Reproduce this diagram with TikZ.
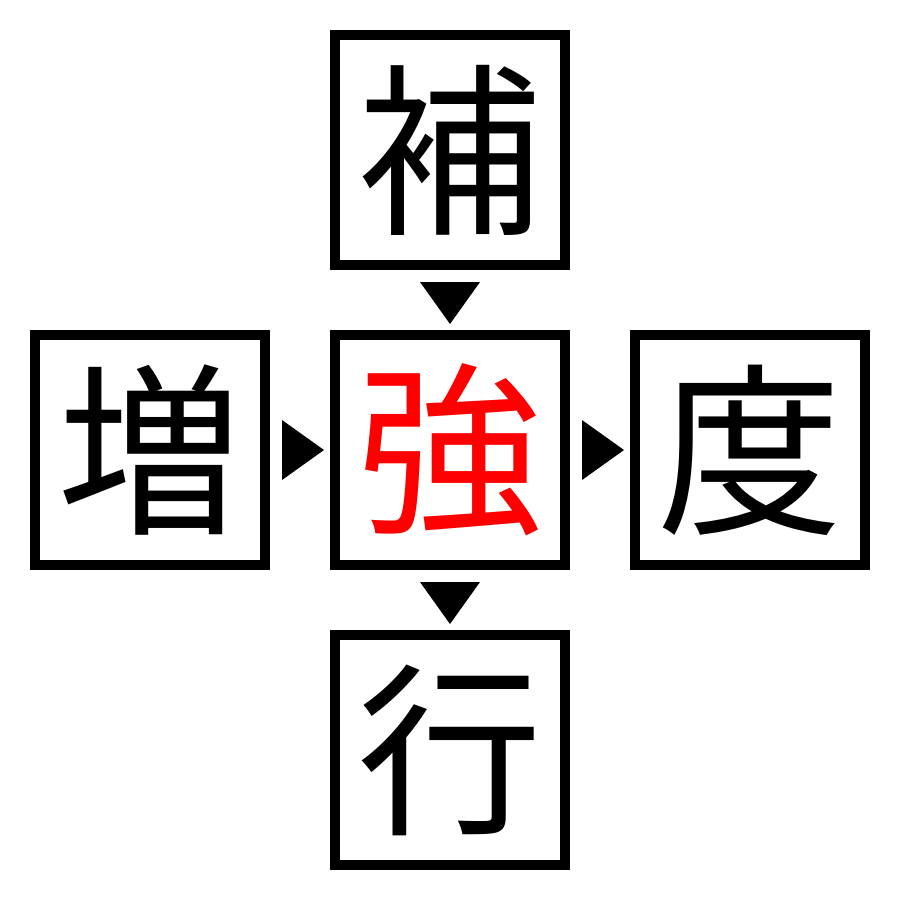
\documentclass[tikz,border=0pt]{standalone}
\usepackage{fontspec}
\newfontfamily\cjk{Noto Sans CJK JP}
\tikzset{
  charbox/.style={draw=black, line width=10pt, minimum size=230pt, inner sep=0pt, fill=white,
    font=\cjk\fontsize{185pt}{185pt}\selectfont, text=black},
  hot/.style={text=red}
}
\begin{document}
\begin{tikzpicture}[x=1pt,y=-1pt]
\useasboundingbox (0,0) rectangle (900,900);
\node[charbox] (top) at (450,150) {補};
\node[charbox] (left) at (150,450) {増};
\node[charbox,hot] (ctr) at (450,450) {強};
\node[charbox] (right) at (750,450) {度};
\node[charbox] (bot) at (450,750) {行};
\path (top.south) -- (ctr.north) coordinate[midway] (m1);
\path (ctr.south) -- (bot.north) coordinate[midway] (m2);
\path (left.east) -- (ctr.west) coordinate[midway] (m3);
\path (ctr.east) -- (right.west) coordinate[midway] (m4);
\fill[black] ([shift={(-30,-18)}]m1) -- ([shift={(30,-18)}]m1) -- ([shift={(0,24)}]m1) -- cycle;
\fill[black] ([shift={(-30,-18)}]m2) -- ([shift={(30,-18)}]m2) -- ([shift={(0,24)}]m2) -- cycle;
\fill[black] ([shift={(-18,-30)}]m3) -- ([shift={(-18,30)}]m3) -- ([shift={(24,0)}]m3) -- cycle;
\fill[black] ([shift={(-18,-30)}]m4) -- ([shift={(-18,30)}]m4) -- ([shift={(24,0)}]m4) -- cycle;
\end{tikzpicture}
\end{document}
